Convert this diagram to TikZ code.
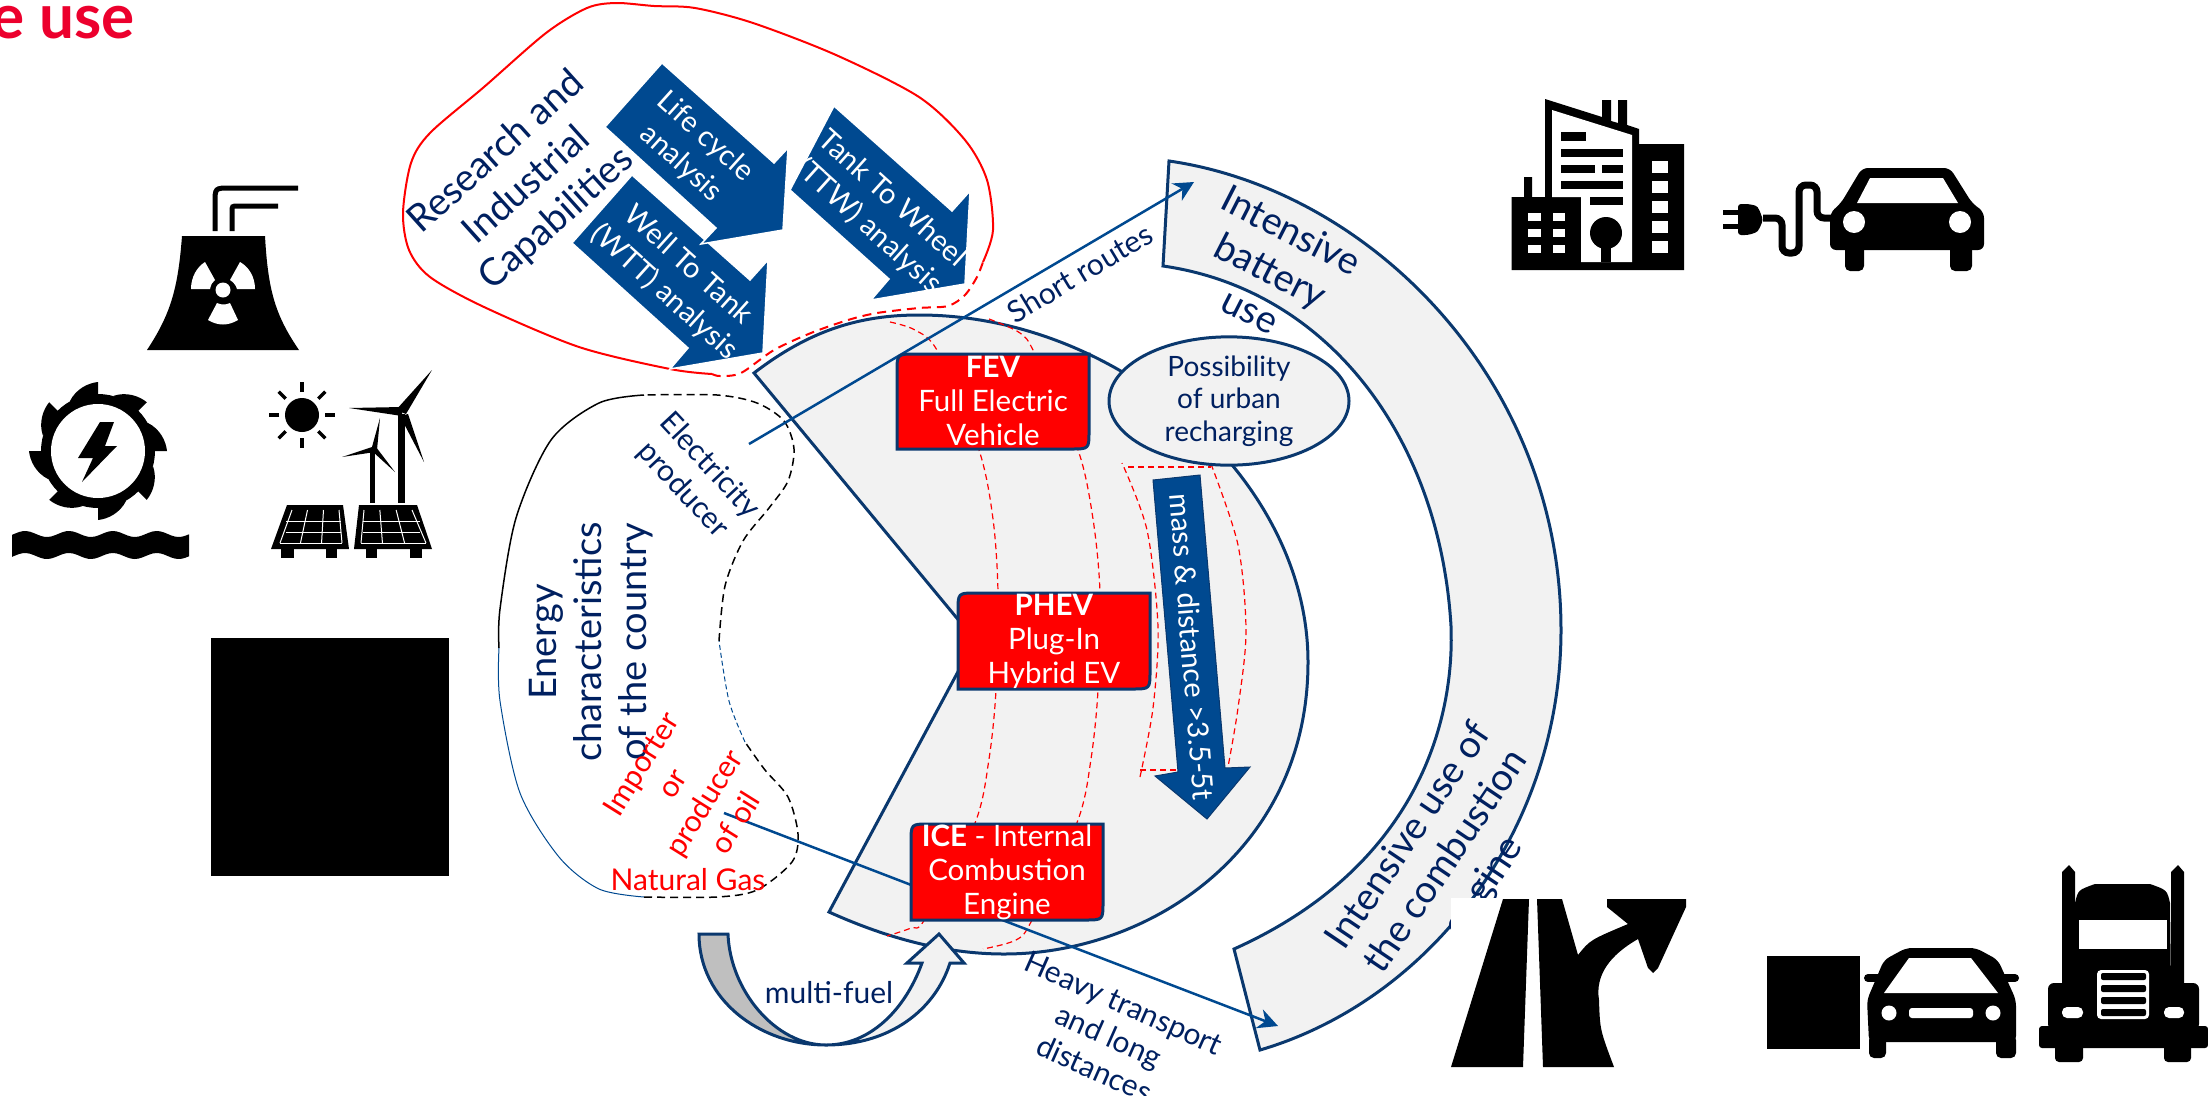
\documentclass[tikz,border=0pt]{standalone}
\usepackage{fontspec}
\setmainfont{Lato}
\usepackage{tikz}
\usetikzlibrary{arrows.meta,shapes.geometric}
\definecolor{navy}{RGB}{0,32,96}
\definecolor{edge}{RGB}{10,56,110}
\definecolor{arrowblue}{RGB}{0,73,144}
\definecolor{shade}{RGB}{242,242,242}
\definecolor{titlered}{RGB}{236,0,45}
\tikzset{
  bigtext/.style={text=navy,align=center,inner sep=0pt,font=\fontsize{38}{45}\selectfont},
  smalltext/.style={text=navy,align=center,inner sep=0pt,font=\fontsize{30}{36}\selectfont},
  redtext/.style={text=red,align=center,inner sep=0pt,font=\fontsize{30}{37}\selectfont},
  whitetext/.style={text=white,align=center,inner sep=0pt,font=\fontsize{29}{36}\selectfont},
  boxtext/.style={text=white,align=center,inner sep=0pt,font=\fontsize{29.5}{34}\selectfont},
  panel/.style={draw=edge,fill=shade,line width=3pt},
  boxline/.style={draw=edge,fill=red,line width=3pt},
  bluearrow/.style={fill=arrowblue,draw=white,line width=1.5pt},
  reddash/.style={draw=red,line width=1.2pt,dash pattern=on 6pt off 4pt},
  blackdash/.style={draw=black,line width=1.5pt,dash pattern=on 8pt off 5pt},
  connector/.style={draw=arrowblue,line width=2.5pt,-{Stealth[length=20pt,width=20pt]}},
  wline/.style={draw=white,line width=1pt}
}
\begin{document}
\begin{tikzpicture}[x=1pt,y=-1pt]
\useasboundingbox (0,0) rectangle (2208,1095);

\node[anchor=base west,inner sep=0pt,text=titlered,font=\fontsize{62}{64}\selectfont\bfseries](title) at (-9,38) {e use};

% nuclear
\fill (182,236) -- (265,236) .. controls (268,290) and (275,315) .. (299,350) -- (147,350) .. controls (170,315) and (178,290) .. (182,236) -- cycle;
\draw[line width=5pt] (215,231) -- (215,203) .. controls (215,188) .. (230,188) -- (298,188);
\draw[line width=5pt] (232,231) -- (232,212) .. controls (232,206) .. (238,206) -- (278,206);
\fill[white] (223,290) circle (7.5);
\fill[white] (191,289) .. controls (191,277) and (197,267) .. (205,262) -- (215,280) .. controls (212,282) and (211,285) .. (210,289) -- cycle;
\fill[white] (255,289) .. controls (255,277) and (249,267) .. (240,262) -- (230,280) .. controls (233,282) and (236,285) .. (237,289) -- cycle;
\fill[white] (208,320) -- (217,303) .. controls (221,305) and (226,305) .. (230,303) -- (238,320) .. controls (228,326) and (218,326) .. (208,320) -- cycle;

% hydro
\fill (98,451) circle (57);
\foreach \a in {0,45,...,315}
  \fill[shift={(98,451)},rotate=\a] (0,-69) -- (0,-50) -- (-28,-50) .. controls (-22,-62) and (-10,-68) .. (0,-69) -- cycle;
\fill[white] (98,451) circle (47);
\fill (100,422) -- (114,422) -- (105,446) -- (117,446) -- (82,482) -- (93,458) -- (78,458) -- cycle;
\fill plot[domain=12:189,samples=50] (\x,{534+3*cos((\x-47)*8.2)}) -- plot[domain=189:12,samples=50] (\x,{556+3*cos((\x-47)*8.2)}) -- cycle;

% sun, turbines, solar
\fill (302,415) circle (17);
\foreach \a in {0,45,...,315}
  \draw[line width=3.5pt,shift={(302,415)},rotate=\a] (23,0) -- (33,0);
\fill (398,414) rectangle (405,503);
\fill (396,410) -- (432,370) -- (406,414) -- cycle;
\fill (402,407) -- (349,408) -- (402,416) -- cycle;
\fill (400,416) -- (424,462) -- (408,414) -- cycle;
\fill (370,450) rectangle (375,503);
\fill (372,447) -- (380,418) -- (377,450) -- cycle;
\fill (375,446) -- (342,457) -- (375,452) -- cycle;
\fill (372,451) -- (395,472) -- (376,447) -- cycle;
\fill (287,505) -- (343,505) -- (349,549) -- (271,549) -- cycle;
\fill (359,505) -- (417,505) -- (432,549) -- (354,549) -- cycle;
\fill (281,549) rectangle (294,558);
\fill (326,549) rectangle (337,558);
\fill (366,549) rectangle (377,558);
\fill (410,549) rectangle (422,558);
\foreach \s in {0,.33,.67,1} {
  \draw[wline] ({292+47*\s},510) -- ({280+62*\s},543);
  \draw[wline] ({364+48*\s},510) -- ({361+65*\s},543);
}
\foreach \h in {521,532} {
  \draw[wline] (286,\h) -- (341,\h);
  \draw[wline] (363,\h) -- (420,\h);
}
\draw[wline] (280,543) -- (342,543);
\draw[wline] (361,543) -- (426,543);

% black square
\fill (211,638) rectangle (449,876);

% building
\fill (1511.5,197) -- (1524,197) -- (1524,177) -- (1532,177) -- (1532,197) -- (1545,197) -- (1545,99) -- (1602,117) -- (1602,100) -- (1611,100) -- (1611,121) -- (1618,123) -- (1618,100) -- (1627,100) -- (1627,125) -- (1639,129) -- (1639,144) -- (1684,144) -- (1684,270) -- (1511.5,270) -- cycle;
\fill[white] (1552,110) -- (1632,135) -- (1632,262) -- (1581,262) -- (1581,197) -- (1552,197) -- cycle;
\fill (1606,233) circle (16);
\fill (1601,240) rectangle (1611,262);
\fill (1561,132) rectangle (1586,141);
\fill (1561,149) rectangle (1622.5,157);
\fill (1561,165) rectangle (1595,173);
\fill (1602,165) rectangle (1622.5,173);
\fill (1561,181) rectangle (1622.5,189);
\fill (1590,197) rectangle (1622.5,205);
\foreach \r in {161,181,201,221,241}
  \fill[white] (1651.6,\r) rectangle (1668,\r+12);
\foreach \r in {213,229,245} {
  \fill[white] (1528,\r) rectangle (1541,\r+8);
  \fill[white] (1552.5,\r) rectangle (1565,\r+8);
}

% plug and car
\fill[rounded corners=3pt] (1738,204) -- (1748,204) .. controls (1758,206) .. (1763,220) .. controls (1758,232) .. (1748,235) -- (1738,235) -- cycle;
\fill (1723,210) rectangle (1738,215);
\fill (1723,224) rectangle (1738,229);
\draw[line width=7pt,rounded corners=7pt] (1763,218) -- (1782,218) -- (1782,253) -- (1799,253) -- (1799,185) -- (1817,185) -- (1817,218) -- (1835,218);
\fill[rounded corners=6pt] (1830,250) -- (1830,213) -- (1841,203) -- (1862,168) -- (1950,168) -- (1972,203) -- (1984,212) -- (1984,250) -- cycle;
\fill[rounded corners=5pt] (1845,245) rectangle (1864,271);
\fill[rounded corners=5pt] (1950,245) rectangle (1972,271);
\fill[white] (1870,178) -- (1943,178) -- (1958,203) -- (1857,203) -- cycle;
\fill[white] (1854,222) circle (11);
\fill[white] (1960,222) circle (11);

% blobs
\draw[red,line width=2pt] plot[smooth] coordinates {(983,262) (993,230) (987,180) (965,140) (919,97) (836,55) (753,23) (695,8) (654,6) (616,3) (587,8) (546,33) (484,87) (430,133) (411,163) (403,213) (409,250) (430,277) (484,307) (579,347) (670,369) (712,374)};
\draw[red,line width=2pt,dash pattern=on 9pt off 6pt] plot[smooth] coordinates {(712,374) (720,376) (741,373) (774,350) (811,333) (848,320) (877,313) (919,308) (948,306) (965,295) (977,277) (983,262)};
\draw[black,line width=1.5pt] plot[smooth] coordinates {(644,395) (599,403) (551,440) (516,518) (500,609) (499,648)};
\draw[arrowblue,line width=1pt] plot[smooth] coordinates {(499,648) (500,701) (520,793) (559,857) (599,889) (644,897)};
\draw[blackdash] plot[smooth] coordinates {(644,897) (717,897) (757,890) (792,862) (798,834) (788,797) (765,770) (745,742)};
\draw[arrowblue,line width=1pt,dash pattern=on 5pt off 3pt] plot[smooth] coordinates {(745,742) (729,701) (719,641)};
\draw[blackdash] plot[smooth] coordinates {(719,641) (725,586) (743,541) (769,508) (788,481) (794,449) (784,421) (757,403) (717,395) (644,395)};

% grey bands
\draw[panel] (1169,161) .. controls (1370,190) and (1561,380) .. (1561,630) .. controls (1561,830) and (1430,1000) .. (1260,1050) -- (1234,949) .. controls (1410,870) and (1455,730) .. (1451,626) .. controls (1440,440) and (1330,290) .. (1163,266) -- cycle;
\draw[panel] (754,373) .. controls (810,330) and (860,315) .. (919,315) .. controls (1120,315) and (1308,480) .. (1308,662) .. controls (1308,850) and (1150,954) .. (1004,954) .. controls (940,954) and (880,935) .. (829,912) -- (975,640) -- cycle;

% multi-fuel arrow
\draw[draw=edge,fill=shade,line width=3pt] (826,1045) .. controls (890,1045) and (935,1010) .. (950,963) -- (964,963) -- (939,934) -- (907,963) -- (922,963) .. controls (905,1010) and (870,1045) .. (826,1045) -- cycle;
\draw[draw=edge,fill=black!25,line width=3pt] (699,934) -- (728,934) .. controls (730,990) and (775,1045) .. (826,1045) .. controls (760,1045) and (699,1000) .. (699,934) -- cycle;

% red dashed bands
\draw[reddash] plot[smooth] coordinates {(890,322) (915,330) (938,352) (979,450) (993,519) (998,593) (996,690) (989,759) (975,823) (925,919) (911,928) (887,936)};
\draw[reddash] plot[smooth] coordinates {(989,319) (1020,333) (1035,354) (1078,450) (1093,519) (1100,593) (1098,690) (1091,759) (1078,820) (1032,920) (1016,940) (983,949)};
\draw[reddash] plot[smooth] coordinates {(1140,777) (1153,708) (1158,627) (1147,530) (1122,463)};
\draw[reddash] (1128,467) -- (1211,467);
\draw[reddash] plot[smooth] coordinates {(1211,464) (1238,545) (1246,632) (1238,708) (1228,767)};
\draw[reddash] (1140,770) -- (1178,770);

% connectors
\coordinate (elecsrc) at (749,444);
\coordinate (shortend) at (1194,182);
\coordinate (oilsrc) at (724,813);
\coordinate (heavyend) at (1278,1026);
\draw[connector] (elecsrc) -- (shortend);
\draw[connector] (oilsrc) -- (heavyend);

% vehicle boxes
\draw[boxline] (897,449) -- (897,372) .. controls (897,354) .. (915,354) -- (1089,354) -- (1089,431) .. controls (1089,449) .. (1071,449) -- cycle;
\draw[boxline] (958,689) -- (958,611) .. controls (958,593) .. (976,593) -- (1150,593) -- (1150,671) .. controls (1150,689) .. (1132,689) -- cycle;
\draw[boxline] (911,920) -- (911,842) .. controls (911,824) .. (929,824) -- (1103,824) -- (1103,902) .. controls (1103,920) .. (1085,920) -- cycle;
\node[boxtext](FEV) at (993,401) {\textbf{FEV}\\Full Electric\\Vehicle};
\node[boxtext](PHEV) at (1054,641) {\textbf{PHEV}\\Plug-In\\Hybrid EV};
\node[boxtext](ICE) at (1007,872) {\textbf{ICE} - Internal\\Combustion\\Engine};

\node[panel,shape = ellipse,minimum width=240pt,minimum height=116pt,text=navy,align=center,inner sep=0pt,font=\fontsize{28}{32.5}\selectfont](urban) at (1229,401) {Possibility\\of urban\\recharging};

% blue arrows
\draw[bluearrow] (632,175) -- (750,280) -- (768,260) -- (763,353) -- (670,369) -- (688,348) -- (572,243) -- cycle;
\draw[bluearrow] (662,63) -- (774,163) -- (788,148) -- (783,230) -- (701,244) -- (716,228) -- (605,127) -- cycle;
\draw[bluearrow] (834,106) -- (952,211) -- (970,191) -- (965,284) -- (871,300) -- (889,279) -- (790,190) -- cycle;
\draw[bluearrow,draw=edge,line width=1pt] (1153,480) -- (1200,475) -- (1225,768) -- (1250,767) -- (1207,819) -- (1155,776) -- (1178,772) -- cycle;

\node[whitetext,rotate=-42](lifecycle) at (693,150) {Life cycle\\analysis};
\node[whitetext,rotate=-42](tankwheel) at (880,213) {Tank To Wheel\\(TTW) analysis};
\node[whitetext,rotate=-42](welltank) at (676,279) {Well To Tank\\(WTT) analysis};
\node[whitetext,rotate=-85.4](massdist) at (1192,647) {mass \& distance >3.5-5t};

\node[bigtext,rotate=42](research) at (527,186) {Research and\\Industrial\\Capabilities};
\node[bigtext,rotate=90](energy) at (591,642) {Energy\\characteristics\\of the country};
\node[bigtext,rotate=-27](battery) at (1271,270) {Intensive\\battery\\use};
\node[bigtext,rotate=56](combustion) at (1447,862) {Intensive use of\\the combustion\\engine};
\node[smalltext,rotate=-47](elec) at (696,478) {Electricity\\producer};
\node[smalltext,rotate=31](short) at (1080,273) {Short routes};
\node[smalltext,rotate=-24](heavy) at (1109,1036) {Heavy transport\\and long\\distances};
\node[smalltext](multi) at (829,993) {multi-fuel};
\node[redtext,rotate=58](oil) at (688,793) {Importer\\or\\producer\\of oil};
\node[redtext](gas) at (688,880) {Natural Gas};

% road
\fill[white] (1451,898) rectangle (1690,1070);
\fill (1503,899) -- (1529,899) -- (1523,1067) -- (1451,1067) -- cycle;
\fill (1537,899) -- (1562,899) -- (1578,955) .. controls (1590,940) .. (1628,924) -- (1607,907) -- (1607,899) -- (1686,899) -- (1686,907) -- (1658,968) -- (1653,973) -- (1648,968) -- (1638,939) .. controls (1610,955) and (1595,975) .. (1599,1000) .. controls (1600,1030) .. (1614,1067) -- (1543,1067) -- cycle;

% car and truck
\fill (1767,956) rectangle (1860,1049);
\fill[rounded corners=6pt] (1869,1042) -- (1867,1000) -- (1884,960) -- (1906,948) -- (1976,948) -- (1998,960) -- (2016,1000) -- (2016,1042) -- cycle;
\draw[line width=8pt,line cap=round] (1868,978) -- (1880,978);
\draw[line width=8pt,line cap=round] (2004,978) -- (2015,978);
\fill[rounded corners=5pt] (1869,1035) rectangle (1886,1058);
\fill[rounded corners=5pt] (1996,1035) rectangle (2016,1058);
\fill[white] (1909,958) -- (1971,958) -- (1998,993) -- (1884,993) -- cycle;
\fill[white] (1889,1013) circle (7.5);
\fill[white] (1993,1013) circle (7.5);
\fill[white,rounded corners=3pt] (1909,1008) rectangle (1973,1018);
\fill (2062,872) -- (2069,865) -- (2075,872) -- (2075,983) -- (2062,983) -- cycle;
\fill (2171,872) -- (2178,865) -- (2184,872) -- (2184,983) -- (2171,983) -- cycle;
\fill (2075,903) .. controls (2078,890) .. (2095,884) -- (2150,884) .. controls (2167,890) .. (2170,903) -- (2171,990) -- (2075,990) -- cycle;
\fill[white] (2079,920) rectangle (2167,949);
\fill[rounded corners=6pt] (2048,1030) -- (2048,983) -- (2199,983) -- (2199,1030) -- cycle;
\fill[rounded corners=3pt] (2039,1026) rectangle (2208,1048);
\fill[rounded corners=4pt] (2055,1040) rectangle (2083,1062);
\fill[rounded corners=4pt] (2164,1040) rectangle (2191,1062);
\fill[white,rounded corners=4pt] (2097,970) rectangle (2149,1019);
\foreach \r in {973,985,997,1009}
  \fill[rounded corners=2pt] (2101,\r) rectangle (2146,\r+7);
\fill[white,rounded corners=5pt] (2062,1007) rectangle (2083,1018);
\fill[white,rounded corners=5pt] (2164,1007) rectangle (2184,1018);
\end{tikzpicture}
\end{document}
